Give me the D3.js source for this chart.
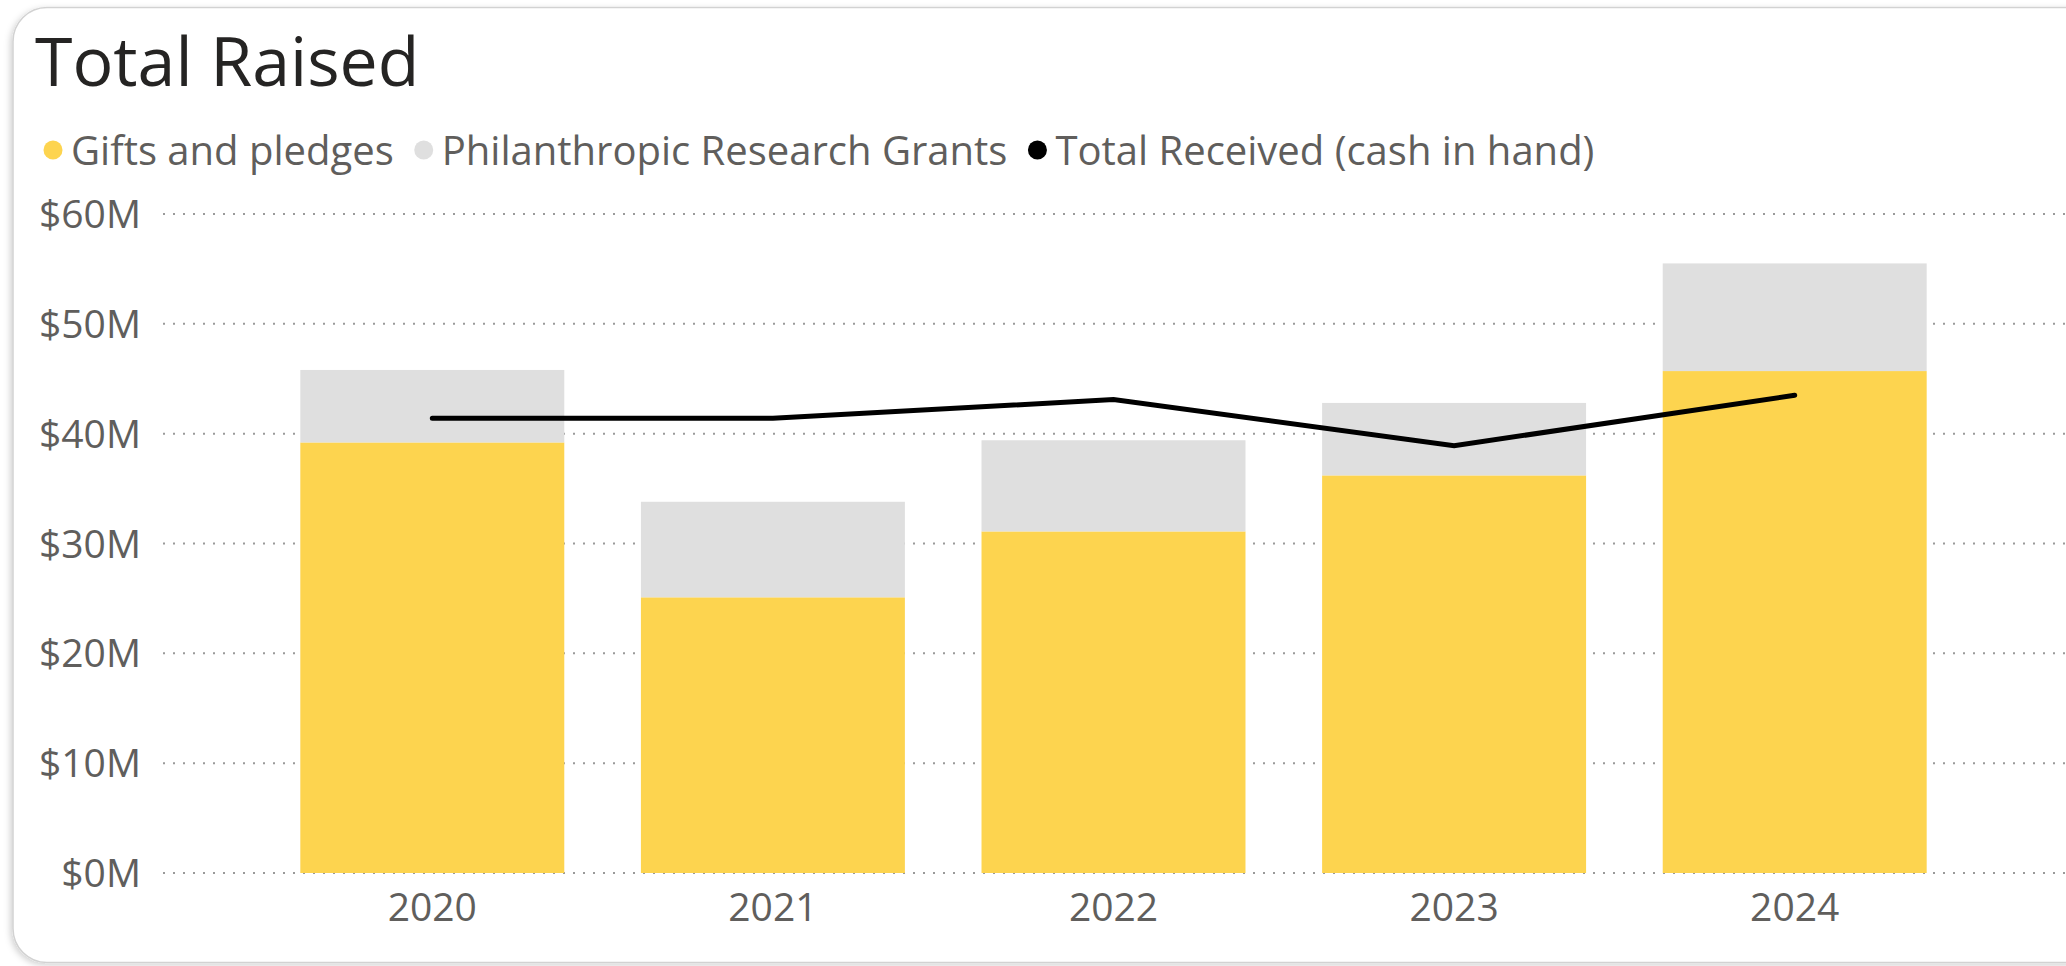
<!DOCTYPE html>
<html>
<head>
<meta charset="utf-8">
<script src="https://cdn.jsdelivr.net/npm/d3@7"></script>
<style>
  html, body { margin: 0; padding: 0; background: #ffffff; }
  svg { display: block; }
  text { font-family: "Open Sans", "Noto Sans", sans-serif; }
</style>
</head>
<body>
<svg id="chart" width="2066" height="966"></svg>
<script>
// ---- data ----
const years = ["2020", "2021", "2022", "2023", "2024"];
const gifts = [39.2, 25.1, 31.1, 36.2, 45.7];          // Gifts and pledges ($M)
const grants = [6.6, 8.7, 8.3, 6.6, 9.8];              // Philanthropic Research Grants ($M)
const received = [41.4, 41.4, 43.1, 38.9, 43.5];       // Total Received (cash in hand) ($M)
const yTicks = [0, 10, 20, 30, 40, 50, 60];
const seriesNames = ["Gifts and pledges", "Philanthropic Research Grants", "Total Received (cash in hand)"];
const seriesColors = ["#FDD44F", "#DFDFDF", "#000000"];

const svg = d3.select("#chart");

// card with shadow
const defs = svg.append("defs");
const f = defs.append("filter").attr("id", "shadow").attr("x", "-5%").attr("y", "-5%").attr("width", "110%").attr("height", "110%");
f.append("feDropShadow").attr("dx", -2).attr("dy", 2).attr("stdDeviation", 3).attr("flood-color", "#000").attr("flood-opacity", 0.18);

svg.append("rect")
  .attr("x", 13).attr("y", 7.5).attr("width", 2110).attr("height", 955)
  .attr("rx", 34).attr("ry", 34)
  .attr("fill", "#ffffff").attr("stroke", "#d2d2d2").attr("stroke-width", 1.5)
  .attr("filter", "url(#shadow)");

// title
svg.append("text")
  .attr("x", 35).attr("y", 86)
  .attr("font-size", 68).attr("fill", "#252423")
  .text("Total Raised");

// legend
let lx = 53;
const legendY = 150;
seriesNames.forEach((name, i) => {
  svg.append("circle").attr("cx", lx).attr("cy", legendY).attr("r", 9.5).attr("fill", seriesColors[i]);
  const t = svg.append("text")
    .attr("x", lx + 18).attr("y", legendY + 14.5)
    .attr("font-size", 40).attr("fill", "#605E5C")
    .text(name);
  const w = t.node().getComputedTextLength();
  lx = lx + 18 + w + 30;
});

// scales
const x = d3.scaleBand().domain(years).range([262, 1965]).paddingInner(0.225).paddingOuter(0.1125);
const y = d3.scaleLinear().domain([0, 60]).range([873, 214]);

// gridlines
svg.append("g").selectAll("line").data(yTicks).join("line")
  .attr("x1", 163).attr("x2", 2066)
  .attr("y1", d => y(d)).attr("y2", d => y(d))
  .attr("stroke", "#9a9a9a").attr("stroke-width", 2)
  .attr("stroke-dasharray", "2,8");

// y axis labels
const yAxis = d3.axisLeft(y).tickValues(yTicks).tickSize(0).tickPadding(0).tickFormat(d => "$" + d + "M");
const gy = svg.append("g").attr("transform", "translate(141,0)").call(yAxis);
gy.select(".domain").remove();
gy.selectAll("text").attr("font-size", 39).attr("fill", "#605E5C")
  .attr("font-family", "'Open Sans', sans-serif").attr("dy", "0.35em");

// x axis labels
const xAxis = d3.axisBottom(x).tickSize(0).tickPadding(0);
const gx = svg.append("g").attr("transform", "translate(0,893)").call(xAxis);
gx.select(".domain").remove();
gx.selectAll("text").attr("font-size", 39).attr("fill", "#605E5C")
  .attr("font-family", "'Open Sans', sans-serif").attr("dy", "0.71em");

// stacked bars
const rows = years.map((yr, i) => ({ year: yr, gifts: gifts[i], grants: grants[i] }));
const stack = d3.stack().keys(["gifts", "grants"])(rows);
svg.append("g").selectAll("g").data(stack).join("g")
  .attr("fill", (d, i) => seriesColors[i])
  .selectAll("rect").data(d => d).join("rect")
  .attr("x", d => x(d.data.year))
  .attr("width", x.bandwidth())
  .attr("y", d => y(d[1]))
  .attr("height", d => y(d[0]) - y(d[1]));

// line
const line = d3.line()
  .x((d, i) => x(years[i]) + x.bandwidth() / 2)
  .y(d => y(d));
svg.append("path").datum(received)
  .attr("d", line)
  .attr("fill", "none").attr("stroke", "#000").attr("stroke-width", 5)
  .attr("stroke-linecap", "round").attr("stroke-linejoin", "miter");
</script>
</body>
</html>
